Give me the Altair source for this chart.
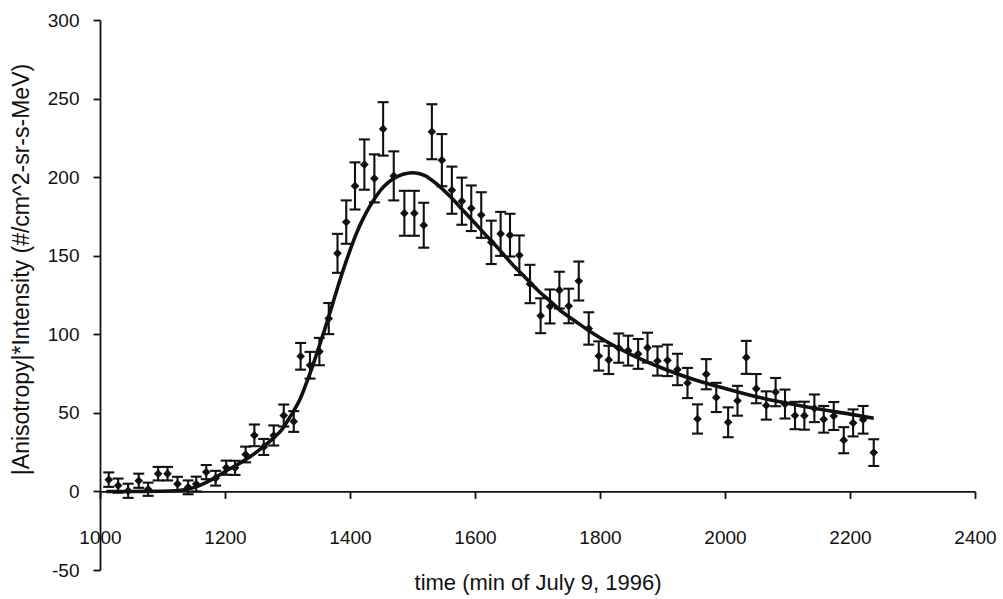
import altair as alt
import pandas as pd

# observed points: time (min), value, error half-height
t = [1014, 1029, 1045, 1062, 1077, 1093, 1108, 1124, 1141, 1154,
     1170, 1185, 1202, 1216, 1233, 1247, 1262, 1278, 1294, 1310,
     1321, 1336, 1351, 1366, 1380, 1394, 1408, 1423, 1439, 1453,
     1470, 1487, 1503, 1518, 1531, 1547, 1563, 1579, 1594, 1610,
     1626, 1641, 1656, 1671, 1688, 1705, 1720, 1735, 1750, 1766,
     1782, 1798, 1814, 1830, 1845, 1861, 1876, 1892, 1908, 1924,
     1940, 1956, 1970, 1986, 2005, 2020, 2034, 2050, 2066, 2081,
     2096, 2112, 2127, 2143, 2158, 2174, 2190, 2205, 2221, 2238]
v = [7.5, 3.7, 0.4, 6.8, 1.4, 11.3, 11.3, 4.8, 2.6, 4.7,
     12.3, 8.4, 15.1, 15.0, 23.5, 35.7, 28.3, 35.6, 48.3, 44.5,
     86.0, 80.3, 89.0, 110.0, 151.5, 171.4, 194.4, 208.0, 199.2, 230.7,
     200.8, 177.0, 177.0, 169.4, 228.9, 210.8, 191.7, 184.7, 180.2, 175.9,
     158.5, 163.9, 163.1, 150.3, 132.0, 111.8, 117.7, 128.1, 118.0, 133.9,
     103.7, 86.2, 83.7, 91.2, 89.6, 87.5, 91.5, 83.0, 83.4, 77.6,
     69.0, 46.1, 74.6, 59.8, 44.0, 57.7, 85.3, 65.4, 54.7, 63.2,
     55.6, 48.3, 48.2, 52.9, 45.9, 48.0, 32.6, 43.6, 45.6, 24.7]
err = [4.6, 4.5, 4.5, 4.5, 4.2, 4.3, 4.3, 4.5, 4.4, 4.7,
       4.5, 4.7, 4.5, 4.5, 5.0, 6.9, 5.1, 6.4, 7.0, 6.6,
       8.5, 8.5, 8.7, 9.9, 12.4, 13.8, 15.0, 16.0, 15.3, 17.0,
       15.6, 14.3, 14.3, 14.3, 17.5, 16.6, 15.0, 15.0, 14.5, 14.5,
       13.8, 14.0, 13.6, 12.6, 12.2, 11.1, 10.8, 11.7, 11.0, 12.4,
       10.3, 9.3, 9.0, 9.3, 9.5, 9.5, 9.5, 9.3, 10.0, 10.0,
       9.6, 9.3, 9.6, 9.3, 9.5, 9.5, 10.5, 9.3, 9.0, 9.0,
       9.2, 8.7, 8.9, 8.8, 8.5, 8.9, 8.3, 8.6, 8.8, 8.5]

# fitted curve
curve_t = [1010, 1050, 1100, 1120, 1140, 1160, 1180, 1200, 1220, 1240,
           1260, 1280, 1290, 1300, 1310, 1320, 1330, 1340, 1350, 1360,
           1370, 1380, 1390, 1400, 1410, 1420, 1430, 1440, 1450, 1460,
           1470, 1480, 1490, 1500, 1510, 1520, 1530, 1540, 1560, 1580,
           1600, 1620, 1640, 1660, 1680, 1700, 1720, 1740, 1760, 1780,
           1800, 1850, 1900, 1950, 2000, 2050, 2100, 2150, 2200, 2238]
curve_v = [0.0, 0.0, 0.1, 0.4, 1.4, 3.9, 7.8, 12.7, 17.1, 22.0,
           28.0, 34.9, 38.8, 44.8, 51.3, 58.7, 68.7, 79.6, 91.6, 103.6,
           116.5, 129.5, 141.9, 153.4, 163.9, 172.8, 180.3, 186.7, 192.2, 196.2,
           199.1, 201.1, 202.3, 202.8, 202.3, 200.9, 198.4, 195.3, 187.8, 179.2,
           170.6, 162.0, 153.4, 144.4, 136.3, 128.2, 121.1, 114.0, 108.5, 102.9,
           97.8, 87.1, 78.4, 71.2, 65.5, 60.3, 56.1, 52.4, 49.2, 46.6]

x_ticks = [1000, 1200, 1400, 1600, 1800, 2000, 2200, 2400]
y_ticks = [-50, 0, 50, 100, 150, 200, 250, 300]

pts = pd.DataFrame({"t": t, "v": v, "err": err})
pts["lo"] = pts["v"] - pts["err"]
pts["hi"] = pts["v"] + pts["err"]
curve = pd.DataFrame({"t": curve_t, "v": curve_v})

INK = "#111111"
FONT = "Liberation Sans"
W, H = 875, 550

xscale = alt.Scale(domain=[1000, 2400], nice=False, zero=False)
yscale = alt.Scale(domain=[-50, 300], nice=False, zero=False)

xaxis = alt.Axis(
    values=x_ticks, labelExpr="'' + datum.value", offset=-(H * 50 / 350), grid=False,
    domainColor=INK, domainWidth=1.8, tickColor=INK, tickWidth=1.8, tickSize=7,
    labelFont=FONT, labelFontSize=19, labelColor=INK, labelPadding=30,
    labelOverlap=False, labelFlush=False,
    title="time (min of July 9, 1996)", titleFont=FONT, titleFontSize=22,
    titleFontWeight="normal", titleColor=INK, titleBaseline="alphabetic",
    titleX=W / 2, titleY=98,
)
yaxis = alt.Axis(
    values=y_ticks, labelExpr="'' + datum.value", grid=False,
    domainColor=INK, domainWidth=1.8, tickColor=INK, tickWidth=1.8, tickSize=7,
    labelFont=FONT, labelFontSize=19, labelColor=INK, labelPadding=14,
    labelOverlap=False, labelFlush=False,
    title="|Anisotropy|*Intensity (#/cm^2-sr-s-MeV)", titleFont=FONT,
    titleFontSize=23, titleFontWeight="normal", titleColor=INK,
    titleAngle=270, titleAlign="center", titleBaseline="alphabetic",
    titleX=-72, titleY=249,
)

X = alt.X("t:Q", scale=xscale, axis=xaxis)

bars = alt.Chart(pts).mark_rule(color=INK, strokeWidth=2.1).encode(
    x=X, y=alt.Y("lo:Q", scale=yscale, axis=yaxis), y2="hi:Q")
caps_hi = alt.Chart(pts).mark_tick(color=INK, orient="horizontal", size=11, thickness=2.1, opacity=1).encode(
    x=X, y=alt.Y("hi:Q", scale=yscale, axis=yaxis))
caps_lo = alt.Chart(pts).mark_tick(color=INK, orient="horizontal", size=11, thickness=2.1, opacity=1).encode(
    x=X, y=alt.Y("lo:Q", scale=yscale, axis=yaxis))
dots = alt.Chart(pts).mark_point(shape="diamond", filled=True, color=INK, size=75, opacity=1).encode(
    x=X, y=alt.Y("v:Q", scale=yscale, axis=yaxis))
line = alt.Chart(curve).mark_line(color=INK, strokeWidth=3.6, interpolate="monotone").encode(
    x=X, y=alt.Y("v:Q", scale=yscale, axis=yaxis))

chart = alt.layer(bars, caps_hi, caps_lo, dots, line).properties(
    width=W, height=H,
    autosize=alt.AutoSizeParams(type="none"),
    padding={"left": 100, "top": 20, "right": 28, "bottom": 29},
    background="white",
).configure_view(stroke=None)

chart.save("out.html", embed_options={"renderer": "svg", "actions": False})
